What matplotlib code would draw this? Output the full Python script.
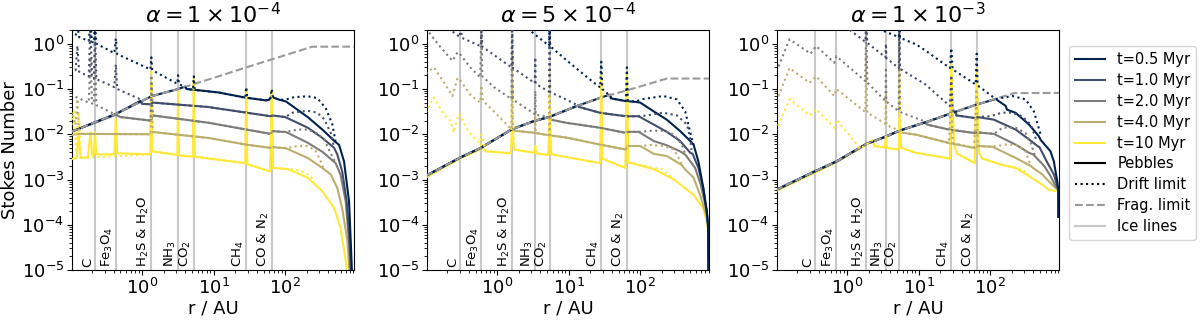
import numpy as np
import matplotlib
matplotlib.use('Agg')
import matplotlib.pyplot as plt
from matplotlib.lines import Line2D

# labels
times = ['t=0.5 Myr', 't=1.0 Myr', 't=2.0 Myr', 't=4.0 Myr', 't=10 Myr']
titles = [r'$\alpha = 1 \times 10^{-4}$', r'$\alpha = 5 \times 10^{-4}$', r'$\alpha = 1 \times 10^{-3}$']
ice_names = ['C', r'Fe$_3$O$_4$', r'H$_2$S & H$_2$O', r'NH$_3$', r'CO$_2$', r'CH$_4$', r'CO & N$_2$']

# ---------------- alpha = 1e-4 ----------------
ice_a1 = [0.22, 0.43, 1.35, 3.2, 5.3, 28.7, 65]
frag_a1 = [(0.1, 0.0112), (0.43, 0.028), (1.35, 0.069), (3.2, 0.10), (10.5, 0.18), (28.7, 0.30), (240, 0.86), (1000, 0.86)]

peb_a1_t05 = [(0.1, 0.0112), (0.43, 0.028), (1.35, 0.069), (3.2, 0.10), (4.0, 0.113), (4.2, 0.100), (11.6, 0.084),
              (28.7, 0.064), (54, 0.056), (60, 0.058), (65, 0.070), (70, 0.064), (83, 0.058), (103, 0.053), (207, 0.024),
              (332, 0.0127), (510, 0.0067), (570, 0.0058), (668, 0.0025), (784, 3.3e-4), (830, 4e-5), (875, 5e-6)]
peb_a1_t1 = [(0.1, 0.0112), (0.43, 0.028), (0.95, 0.055), (1.0, 0.047), (1.32, 0.046), (1.42, 0.050), (8.4, 0.040),
             (28.7, 0.030), (63, 0.025), (67, 0.026), (100, 0.024), (207, 0.014), (332, 0.0083), (485, 0.0050),
             (537, 0.0036), (630, 0.0015), (727, 3.3e-4), (800, 4.3e-5), (850, 5e-6)]
peb_a1_t2 = [(0.1, 0.0112), (0.43, 0.027), (0.5, 0.024), (1.32, 0.020), (1.42, 0.026), (8.4, 0.018), (28.7, 0.0127),
             (63, 0.0102), (67, 0.0117), (103, 0.0112), (207, 0.0065), (332, 0.0041), (510, 0.0023), (595, 0.0013),
             (705, 3.3e-4), (784, 4.3e-5), (840, 5e-6)]
peb_a1_t4 = [(0.1, 0.0095), (0.13, 0.0102), (1.32, 0.0100), (1.42, 0.0112), (8.4, 0.0083), (28.7, 0.0059),
             (63, 0.0050), (67, 0.0052), (103, 0.0049), (207, 0.0030), (332, 0.0018), (436, 0.0013), (537, 6.5e-4),
             (630, 2.3e-4), (745, 4.3e-5), (815, 5e-6)]
peb_a1_t10 = [(0.1, 0.0028), (0.122, 0.0030), (0.13, 0.0095), (0.138, 0.0030), (0.175, 0.0031), (0.19, 0.011),
              (0.2, 0.0035), (0.212, 0.0035), (0.22, 0.011), (0.23, 0.0036), (0.41, 0.0036), (0.43, 0.022),
              (0.45, 0.0038), (1.31, 0.0036), (1.35, 0.14), (1.39, 0.0042), (3.12, 0.0035), (3.2, 0.09), (3.28, 0.0034),
              (5.15, 0.0032), (5.3, 0.16), (5.45, 0.0032), (27.8, 0.0023), (28.7, 0.10), (29.6, 0.0022), (62, 0.0015),
              (65, 0.09), (68, 0.0018), (109, 0.0017), (207, 0.0011), (332, 5.5e-4), (489, 2.3e-4), (595, 8.5e-5),
              (705, 1.6e-5), (745, 5e-6)]

drift_a1_t05 = [(0.1, 1.6), (0.118, 1.5), (0.125, 2.6), (0.132, 1.4), (0.18, 1.15), (0.19, 3.0), (0.2, 1.1),
                (0.212, 1.05), (0.22, 3.0), (0.23, 1.0), (0.41, 0.62), (0.43, 1.3), (0.45, 0.59), (1.31, 0.27),
                (1.35, 0.5), (1.39, 0.26), (3.12, 0.13), (3.2, 0.2), (3.28, 0.126), (4.0, 0.113), (4.2, 0.100),
                (5.15, 0.096), (5.3, 0.19), (5.45, 0.095), (11.6, 0.084), (27.8, 0.064), (28.7, 0.11), (29.6, 0.064),
                (54, 0.056), (62, 0.058), (65, 0.10), (68, 0.064), (83, 0.058), (100, 0.058), (134, 0.066),
                (207, 0.069), (282, 0.063), (370, 0.038), (458, 0.0166), (510, 0.0067)]
drift_a1_t1 = [(0.1, 0.3), (0.118, 0.26), (0.125, 0.9), (0.132, 0.24), (0.18, 0.19), (0.19, 2.5), (0.2, 0.18),
               (0.212, 0.17), (0.22, 2.0), (0.23, 0.165), (0.41, 0.11), (0.43, 0.35), (0.45, 0.10), (0.95, 0.059),
               (1.0, 0.047), (1.32, 0.046), (1.42, 0.050), (8.4, 0.040), (28.7, 0.030), (63, 0.025), (67, 0.026),
               (100, 0.024), (128, 0.030), (207, 0.033), (282, 0.030), (353, 0.0215), (435, 0.0107), (485, 0.0050)]
drift_a1_t2 = [(0.1, 0.075), (0.18, 0.05), (0.19, 0.5), (0.2, 0.048), (0.212, 0.046), (0.22, 0.7), (0.23, 0.044),
               (0.43, 0.027), (0.5, 0.024), (1.32, 0.020), (1.35, 0.2), (1.42, 0.026), (8.4, 0.018), (28.7, 0.0127),
               (63, 0.0102), (67, 0.0117), (103, 0.0112), (150, 0.0127), (207, 0.0127), (282, 0.0105),
               (353, 0.0076), (412, 0.0045), (510, 0.0023)]
drift_a1_t4 = [(0.1, 0.035), (0.118, 0.016), (0.125, 0.06), (0.132, 0.011), (0.14, 0.0102), (1.32, 0.0100),
               (1.35, 0.12), (1.42, 0.0112), (8.4, 0.0083), (28.7, 0.0059), (63, 0.0050), (67, 0.0052),
               (103, 0.0049), (150, 0.0055), (207, 0.0055), (268, 0.0043), (332, 0.0021), (345, 0.0017)]
drift_a1_t10 = [(0.1, 0.012), (0.112, 0.035), (0.12, 0.004), (0.13, 0.03), (0.14, 0.0030), (1.31, 0.0036),
                (1.35, 0.3), (1.39, 0.0042), (5.15, 0.0032), (5.3, 0.16), (5.45, 0.0032), (27.8, 0.0023),
                (28.7, 0.1), (29.6, 0.0022), (62, 0.0015), (65, 0.1), (68, 0.0018), (109, 0.0017), (160, 0.0016),
                (207, 0.0013), (256, 0.0010)]

# ---------------- alpha = 5e-4 ----------------
ice_a2 = [0.30, 0.60, 1.62, 3.4, 5.4, 28.5, 65]
frag_a2 = [(0.1, 0.0012), (0.31, 0.0031), (0.59, 0.005), (1.62, 0.013), (3.25, 0.0195), (5.3, 0.024), (13, 0.042),
           (27.6, 0.064), (65, 0.093), (235, 0.17), (1000, 0.17)]

peb_a2_t05 = [(0.1, 0.0012), (0.31, 0.0031), (0.59, 0.005), (1.62, 0.013), (3.25, 0.0195), (5.3, 0.024), (13, 0.042),
              (27.6, 0.064), (38, 0.075), (39, 0.062), (63, 0.054), (85, 0.052), (100, 0.050), (154, 0.032),
              (235, 0.021), (360, 0.0118), (500, 0.0071), (556, 0.0059), (650, 0.0025), (760, 6.5e-4), (850, 2e-4),
              (885, 1e-4), (905, 5e-6)]
peb_a2_t1 = [(0.1, 0.0012), (0.31, 0.0031), (0.59, 0.005), (1.62, 0.013), (3.25, 0.0195), (5.3, 0.024), (13.5, 0.043),
             (14, 0.040), (27.6, 0.0297), (63, 0.025), (95, 0.025), (154, 0.0164), (235, 0.0113), (360, 0.0071),
             (500, 0.0039), (540, 0.0037), (650, 0.0018), (760, 6.5e-4), (850, 2e-4), (885, 1e-4), (905, 5e-6)]
peb_a2_t2 = [(0.1, 0.0012), (0.31, 0.0031), (0.59, 0.005), (1.62, 0.013), (3.25, 0.0195), (5.4, 0.024), (5.6, 0.021),
             (9.5, 0.0178), (27.6, 0.0139), (63, 0.0107), (67, 0.0113), (95, 0.0113), (154, 0.0071), (235, 0.0057),
             (360, 0.0042), (430, 0.0035), (585, 0.0018), (700, 7.7e-4), (850, 2e-4), (885, 1e-4), (905, 5e-6)]
peb_a2_t4 = [(0.1, 0.0012), (0.31, 0.0031), (0.59, 0.005), (1.62, 0.013), (1.75, 0.012), (3.25, 0.0108),
             (5.3, 0.0095), (9.5, 0.0084), (27.6, 0.0059), (63, 0.0046), (67, 0.0055), (100, 0.0055), (154, 0.0037),
             (235, 0.0033), (380, 0.0021), (420, 0.0017), (556, 0.0011), (685, 4.6e-4), (850, 1.5e-4), (885, 1e-4),
             (905, 5e-6)]
peb_a2_t10 = [(0.1, 0.0011), (0.30, 0.0029), (0.58, 0.0046), (0.6, 0.006), (0.65, 0.0046), (0.70, 0.0042),
              (1.55, 0.0038), (1.62, 0.012), (1.72, 0.0046), (3.3, 0.0039), (3.4, 0.0055), (3.5, 0.0038),
              (5.2, 0.0035), (5.4, 0.025), (5.7, 0.0036), (27.5, 0.0023), (28.5, 0.15), (29.5, 0.0029), (62, 0.0018),
              (65, 0.2), (68, 0.0024), (154, 0.0017), (296, 0.0010), (556, 4.6e-4), (760, 2.3e-4), (850, 1.2e-4),
              (885, 8e-5), (905, 5e-6)]

drift_a2_t05 = [(2.3, 2.6), (5.3, 0.9), (5.4, 2.6), (5.5, 0.88), (9.5, 0.42), (20, 0.16), (27.5, 0.108), (28.5, 0.4),
                (29.5, 0.10), (38, 0.070), (39, 0.062), (63, 0.054), (65, 0.3), (67, 0.055), (85, 0.053), (111, 0.060),
                (210, 0.070), (325, 0.059), (425, 0.032), (525, 0.008), (556, 0.0059)]
drift_a2_t1 = [(0.18, 2.6), (0.3, 1.4), (0.31, 2.5), (0.32, 1.35), (0.59, 0.88), (0.6, 2.5), (0.62, 0.86),
               (1.58, 0.30), (1.62, 3.0), (1.66, 0.29), (3.35, 0.135), (3.4, 0.5), (3.45, 0.13), (5.3, 0.087),
               (5.4, 2.5), (5.5, 0.085), (10, 0.055), (13.5, 0.043), (14, 0.040), (27.6, 0.0297), (63, 0.025),
               (95, 0.025), (123, 0.026), (210, 0.030), (325, 0.026), (450, 0.0164), (500, 0.008), (520, 0.0045)]
drift_a2_t2 = [(0.1, 2.2), (0.16, 0.85), (0.236, 0.42), (0.28, 0.65), (0.3, 0.6), (0.42, 0.30), (0.58, 0.18),
               (0.6, 2.5), (0.62, 0.19), (0.9, 0.11), (1.58, 0.060), (1.62, 2.5), (1.66, 0.058), (3.35, 0.028),
               (3.4, 0.09), (3.45, 0.027), (5.4, 0.024), (5.6, 0.021), (9.5, 0.0178), (27.6, 0.0139), (63, 0.0107),
               (67, 0.0113), (95, 0.0113), (150, 0.012), (220, 0.012), (300, 0.0095), (380, 0.006), (430, 0.0035)]
drift_a2_t4 = [(0.1, 0.22), (0.13, 0.30), (0.18, 0.14), (0.236, 0.07), (0.28, 0.175), (0.31, 0.15), (0.42, 0.075),
               (0.58, 0.05), (0.6, 0.12), (0.63, 0.055), (0.9, 0.032), (1.38, 0.016), (1.58, 0.0128), (1.62, 0.6),
               (1.66, 0.012), (3.35, 0.0108), (3.4, 0.03), (3.45, 0.0107), (5.3, 0.0095), (5.4, 0.08), (5.5, 0.0095),
               (9.5, 0.0084), (27.6, 0.0059), (63, 0.0046), (67, 0.0055), (100, 0.0055), (140, 0.0058),
               (200, 0.0055), (280, 0.0048), (330, 0.0035), (380, 0.0021)]
drift_a2_t10 = [(0.1, 0.03), (0.13, 0.065), (0.18, 0.027), (0.22, 0.02), (0.245, 0.011), (0.29, 0.028), (0.31, 0.025),
                (0.36, 0.015), (0.45, 0.009), (0.57, 0.0065), (0.6, 0.01), (0.65, 0.006), (0.7, 0.0042),
                (1.55, 0.0038), (1.62, 0.15), (1.72, 0.0046), (3.3, 0.0039), (3.4, 0.0055), (3.5, 0.0038),
                (5.2, 0.0035), (5.4, 0.3), (5.7, 0.0036), (27.5, 0.0023), (28.5, 0.2), (29.5, 0.0029), (62, 0.0018),
                (65, 0.25), (68, 0.0024), (154, 0.0018), (200, 0.0017), (260, 0.0012), (296, 0.0010)]

# ---------------- alpha = 1e-3 ----------------
ice_a3 = [0.36, 0.71, 1.86, 3.5, 5.4, 28.7, 65]
frag_a3 = [(0.1, 5.8e-4), (0.35, 0.0015), (0.71, 0.0025), (1.86, 0.0061), (3.5, 0.0089), (5.4, 0.012), (13.4, 0.019),
           (28.5, 0.029), (64, 0.045), (216, 0.081), (1000, 0.082)]

peb_a3_t05 = [(0.1, 5.8e-4), (0.35, 0.0015), (0.71, 0.0025), (1.86, 0.0061), (3.5, 0.0089), (5.4, 0.012),
              (13.4, 0.019), (28.5, 0.029), (64, 0.045), (120, 0.060), (166, 0.042), (172, 0.035), (228, 0.0297),
              (350, 0.0164), (480, 0.0091), (510, 0.0075), (700, 0.0042), (780, 0.0025), (870, 9e-4), (900, 6e-4),
              (905, 1.5e-4)]
peb_a3_t1 = [(0.1, 5.8e-4), (0.35, 0.0015), (0.71, 0.0025), (1.86, 0.0061), (3.5, 0.0089), (5.4, 0.012),
             (13.4, 0.019), (28.5, 0.029), (33, 0.031), (34, 0.026), (59.5, 0.023), (64, 0.022), (67, 0.024),
             (113, 0.021), (228, 0.0127), (350, 0.0077), (460, 0.0055), (490, 0.0052), (620, 0.0025), (780, 0.0013),
             (900, 6e-4), (905, 1.5e-4)]
peb_a3_t2 = [(0.1, 5.8e-4), (0.35, 0.0015), (0.71, 0.0025), (1.86, 0.0061), (3.5, 0.0089), (5.4, 0.012),
             (12.6, 0.0185), (13, 0.0164), (26.7, 0.0127), (59.5, 0.0107), (67, 0.011), (113, 0.0102),
             (228, 0.0059), (350, 0.0039), (400, 0.0036), (570, 0.0020), (700, 0.0012), (825, 7.1e-4), (900, 6e-4),
             (905, 1.5e-4)]
peb_a3_t4 = [(0.1, 5.8e-4), (0.35, 0.0015), (0.71, 0.0025), (1.86, 0.0061), (3.5, 0.0089), (5.4, 0.012),
             (5.6, 0.011), (9.2, 0.0098), (26.7, 0.0064), (59.5, 0.0050), (67, 0.0055), (108, 0.0053), (228, 0.0030),
             (370, 0.0020), (400, 0.0018), (536, 0.0013), (665, 9.1e-4), (825, 6.5e-4), (900, 6e-4), (905, 1.5e-4)]
peb_a3_t10 = [(0.1, 5.5e-4), (0.35, 0.0014), (0.71, 0.0024), (1.86, 0.0059), (2.28, 0.0074), (2.4, 0.0055),
              (3.4, 0.0051), (3.5, 0.0089), (3.6, 0.0050), (5.3, 0.0046), (5.4, 0.025), (5.7, 0.0050), (9.2, 0.0039),
              (27.5, 0.0029), (28.7, 0.3), (31.5, 0.0055), (35, 0.0037), (61, 0.0023), (65, 0.25), (70, 0.0039),
              (78, 0.0029), (148, 0.0021), (228, 0.0018), (350, 0.0012), (536, 7.7e-4), (665, 5.9e-4),
              (825, 5.6e-4), (900, 6e-4), (905, 1.5e-4)]

drift_a3_t05 = [(2.0, 2.6), (5.3, 1.4), (5.4, 3.0), (5.5, 1.35), (9.2, 0.97), (12.6, 0.70), (27.5, 0.29), (28.7, 0.8),
                (30, 0.27), (63, 0.126), (65, 0.6), (67, 0.12), (120, 0.060), (166, 0.066), (205, 0.070),
                (313, 0.059), (410, 0.032), (510, 0.0098)]
drift_a3_t1 = [(0.95, 2.4), (1.8, 1.1), (1.86, 3.0), (1.92, 1.05), (3.45, 0.5), (3.5, 1.0), (3.55, 0.48),
               (5.3, 0.29), (5.4, 3.0), (5.5, 0.28), (9.2, 0.17), (12.6, 0.125), (20, 0.065), (27.5, 0.042),
               (28.7, 0.2), (30, 0.036), (34, 0.026), (59.5, 0.023), (64, 0.022), (67, 0.024), (101, 0.025),
               (148, 0.030), (200, 0.030), (280, 0.025), (370, 0.0164), (440, 0.0077)]
drift_a3_t2 = [(0.1, 0.25), (0.108, 0.29), (0.157, 1.25), (0.216, 0.89), (0.31, 0.60), (0.37, 0.89), (0.665, 0.38),
               (0.71, 0.53), (1.8, 0.15), (1.86, 3.0), (1.92, 0.14), (3.45, 0.054), (3.5, 0.3), (3.55, 0.053),
               (5.3, 0.032), (5.4, 2.5), (5.5, 0.031), (11.4, 0.020), (12.6, 0.0185), (13, 0.0164), (26.7, 0.0127),
               (59.5, 0.0107), (67, 0.011), (113, 0.0102), (150, 0.014), (228, 0.014), (313, 0.0107), (370, 0.0064),
               (420, 0.0035)]
drift_a3_t4 = [(0.1, 0.055), (0.108, 0.064), (0.157, 0.29), (0.216, 0.20), (0.30, 0.137), (0.37, 0.19),
               (0.665, 0.07), (0.71, 0.10), (1.8, 0.031), (1.86, 0.5), (1.92, 0.030), (3.45, 0.017), (3.5, 0.08),
               (3.55, 0.016), (5.4, 0.012), (5.6, 0.011), (9.2, 0.0098), (26.7, 0.0064), (28.7, 0.1), (30, 0.0064),
               (59.5, 0.0050), (65, 0.1), (67, 0.0055), (108, 0.0053), (166, 0.0059), (228, 0.0059), (313, 0.0042),
               (370, 0.0020)]
drift_a3_t10 = [(0.1, 0.012), (0.108, 0.015), (0.157, 0.059), (0.216, 0.040), (0.30, 0.026), (0.37, 0.036),
                (0.665, 0.014), (0.71, 0.021), (1.33, 0.0064), (1.5, 0.0048), (1.86, 0.0059), (2.28, 0.0074),
                (2.4, 0.0055), (3.4, 0.0051), (3.5, 0.0089), (3.6, 0.0050), (5.3, 0.0046), (5.4, 0.3), (5.7, 0.0050),
                (9.2, 0.0039), (27.5, 0.0029), (28.7, 0.35), (31.5, 0.0055), (35, 0.0037), (61, 0.0023), (65, 0.3),
                (70, 0.0039), (78, 0.0029), (148, 0.0021), (200, 0.0019), (280, 0.0017), (350, 0.0012)]

panels = [
    (ice_a1, frag_a1, [peb_a1_t05, peb_a1_t1, peb_a1_t2, peb_a1_t4, peb_a1_t10],
     [drift_a1_t05, drift_a1_t1, drift_a1_t2, drift_a1_t4, drift_a1_t10]),
    (ice_a2, frag_a2, [peb_a2_t05, peb_a2_t1, peb_a2_t2, peb_a2_t4, peb_a2_t10],
     [drift_a2_t05, drift_a2_t1, drift_a2_t2, drift_a2_t4, drift_a2_t10]),
    (ice_a3, frag_a3, [peb_a3_t05, peb_a3_t1, peb_a3_t2, peb_a3_t4, peb_a3_t10],
     [drift_a3_t05, drift_a3_t1, drift_a3_t2, drift_a3_t4, drift_a3_t10]),
]

cmap = plt.get_cmap('cividis')
colors = [cmap(v) for v in np.linspace(0, 1, len(times))]
frag_color = '#9a9a9a'
ice_color = '#c8c8c8'

fig = plt.figure(figsize=(12, 3.2), dpi=100)
lefts = [0.060, 0.356, 0.6475]
axes = [fig.add_axes([l, 0.156, 0.235, 0.75]) for l in lefts]

for ax, title, (ice, frag, pebs, drifts) in zip(axes, titles, panels):
    for r_ice, name in zip(ice, ice_names):
        ax.axvline(r_ice, color=ice_color, lw=1.5, zorder=1)
        ax.text(r_ice / 1.02, 1.15e-5, name, rotation=90, ha='right', va='bottom', fontsize=9.5)
    for i in reversed(range(len(times))):
        r, st = np.array(pebs[i]).T
        ax.plot(r, st, color=colors[i], lw=1.5, zorder=3)
    r, st = np.array(frag).T
    ax.plot(r, st, color=frag_color, ls='--', lw=1.5, zorder=4)
    for i in reversed(range(len(times))):
        r, st = np.array(drifts[i]).T
        ax.plot(r, st, color=colors[i], ls=':', lw=1.5, zorder=5)

    ax.set_xscale('log')
    ax.set_yscale('log')
    ax.set_xlim(0.105, 920)
    ax.set_ylim(1e-5, 2.0)
    ax.set_title(title, fontsize=16, pad=5)
    ax.set_xlabel('r / AU', fontsize=13, labelpad=1)
    ax.tick_params(labelsize=13, pad=2)

axes[0].set_ylabel('Stokes Number', fontsize=13, labelpad=2)

handles = [Line2D([], [], color=c, lw=1.5) for c in colors]
handles += [Line2D([], [], color='k', lw=1.5),
            Line2D([], [], color='k', lw=1.5, ls=':'),
            Line2D([], [], color=frag_color, lw=1.5, ls='--'),
            Line2D([], [], color=ice_color, lw=1.5)]
labels = times + ['Pebbles', 'Drift limit', 'Frag. limit', 'Ice lines']
axes[2].legend(handles, labels, loc='upper left', bbox_to_anchor=(1.02, 0.95), fontsize=10.5,
               handlelength=2.1, labelspacing=0.4, borderaxespad=0.3)

fig.savefig('out.png', dpi=100)
